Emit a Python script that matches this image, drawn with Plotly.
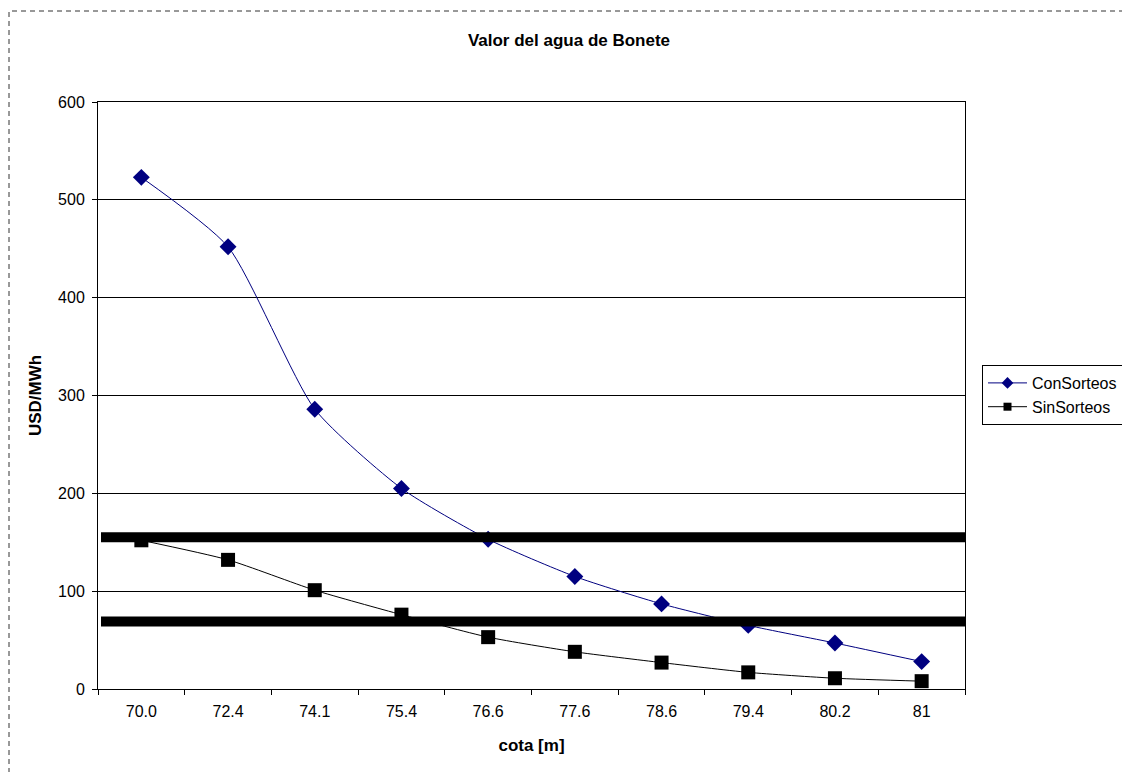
import plotly.graph_objects as go

categories = ["70.0", "72.4", "74.1", "75.4", "76.6", "77.6", "78.6", "79.4", "80.2", "81"]
con_sorteos = [523, 452, 286, 205, 153, 115, 87, 65, 47, 28]
sin_sorteos = [152, 132, 101, 76, 53, 38, 27, 17, 11, 8]
ref_levels = [155, 69]

W, H = 1122, 772
L, T = 98, 102
PW, PH = 867, 587
R = W - L - PW
B = H - T - PH

def px_x(px):  # page px -> paper x
    return (px - L) / PW

def px_y(py):  # page px -> paper y
    return (T + PH - py) / PH

fig = go.Figure()
fig.add_trace(go.Scatter(
    x=categories, y=con_sorteos, name="ConSorteos", mode="lines+markers", showlegend=False,
    line=dict(color="#000080", width=1, shape="spline", smoothing=0.6),
    marker=dict(symbol="diamond", size=13, color="#000080"),
))
fig.add_trace(go.Scatter(
    x=categories, y=sin_sorteos, name="SinSorteos", mode="lines+markers", showlegend=False,
    line=dict(color="#000000", width=1, shape="spline", smoothing=0.6),
    marker=dict(symbol="square", size=14, color="#000000"),
))
# legend entries (smaller symbols, as in the reference)
fig.add_trace(go.Scatter(x=[None], y=[None], name="ConSorteos", mode="lines+markers",
                         line=dict(color="#000080", width=1),
                         marker=dict(symbol="diamond", size=9, color="#000080")))
fig.add_trace(go.Scatter(x=[None], y=[None], name="SinSorteos", mode="lines+markers",
                         line=dict(color="#000000", width=1),
                         marker=dict(symbol="square", size=8, color="#000000")))

for lv in ref_levels:
    fig.add_shape(type="line", xref="paper", yref="y", x0=px_x(101), x1=1, y0=lv, y1=lv,
                  line=dict(color="black", width=10), layer="above")

# dashed chart-area border
fig.add_shape(type="rect", xref="paper", yref="paper",
              x0=px_x(9), x1=px_x(1140), y0=px_y(790), y1=px_y(11),
              line=dict(color="#333333", width=1, dash="5px,4px"))

fig.update_layout(
    width=W, height=H,
    margin=dict(l=L, r=R, t=T, b=B, autoexpand=False),
    paper_bgcolor="white", plot_bgcolor="white",
    font=dict(family="Arial, Liberation Sans", size=16, color="black"),
    title=dict(text="<b>Valor del agua de Bonete</b>", x=569 / W, xref="container",
               xanchor="center", y=1 - 40 / H, yref="container", yanchor="middle",
               font=dict(size=17)),
    showlegend=True,
    legend=dict(x=px_x(982), y=px_y(365), xanchor="left", yanchor="top",
                bordercolor="black", borderwidth=1, bgcolor="white",
                font=dict(size=16), tracegroupgap=0, itemwidth=39),
    xaxis=dict(type="category", tickson="boundaries", ticks="outside", ticklen=5,
               tickcolor="black", showline=True, linecolor="black", linewidth=1, mirror=True,
               showgrid=False, ticklabelstandoff=8,
               title=dict(text="<b>cota [m]</b>", standoff=19, font=dict(size=17)),
               range=[-0.5, 9.5]),
    yaxis=dict(range=[0, 600], dtick=100, ticks="outside", ticklen=5, tickcolor="black",
               showline=True, linecolor="black", linewidth=1, mirror=True, ticklabelstandoff=4,
               showgrid=True, gridcolor="black", gridwidth=1, zeroline=False,
               title=dict(text="<b>USD/MWh</b>", standoff=12, font=dict(size=17))),
)

fig.write_html("out.html", config={"displayModeBar": False},
               post_script="document.body.style.margin='0px';document.body.style.overflow='hidden';")
